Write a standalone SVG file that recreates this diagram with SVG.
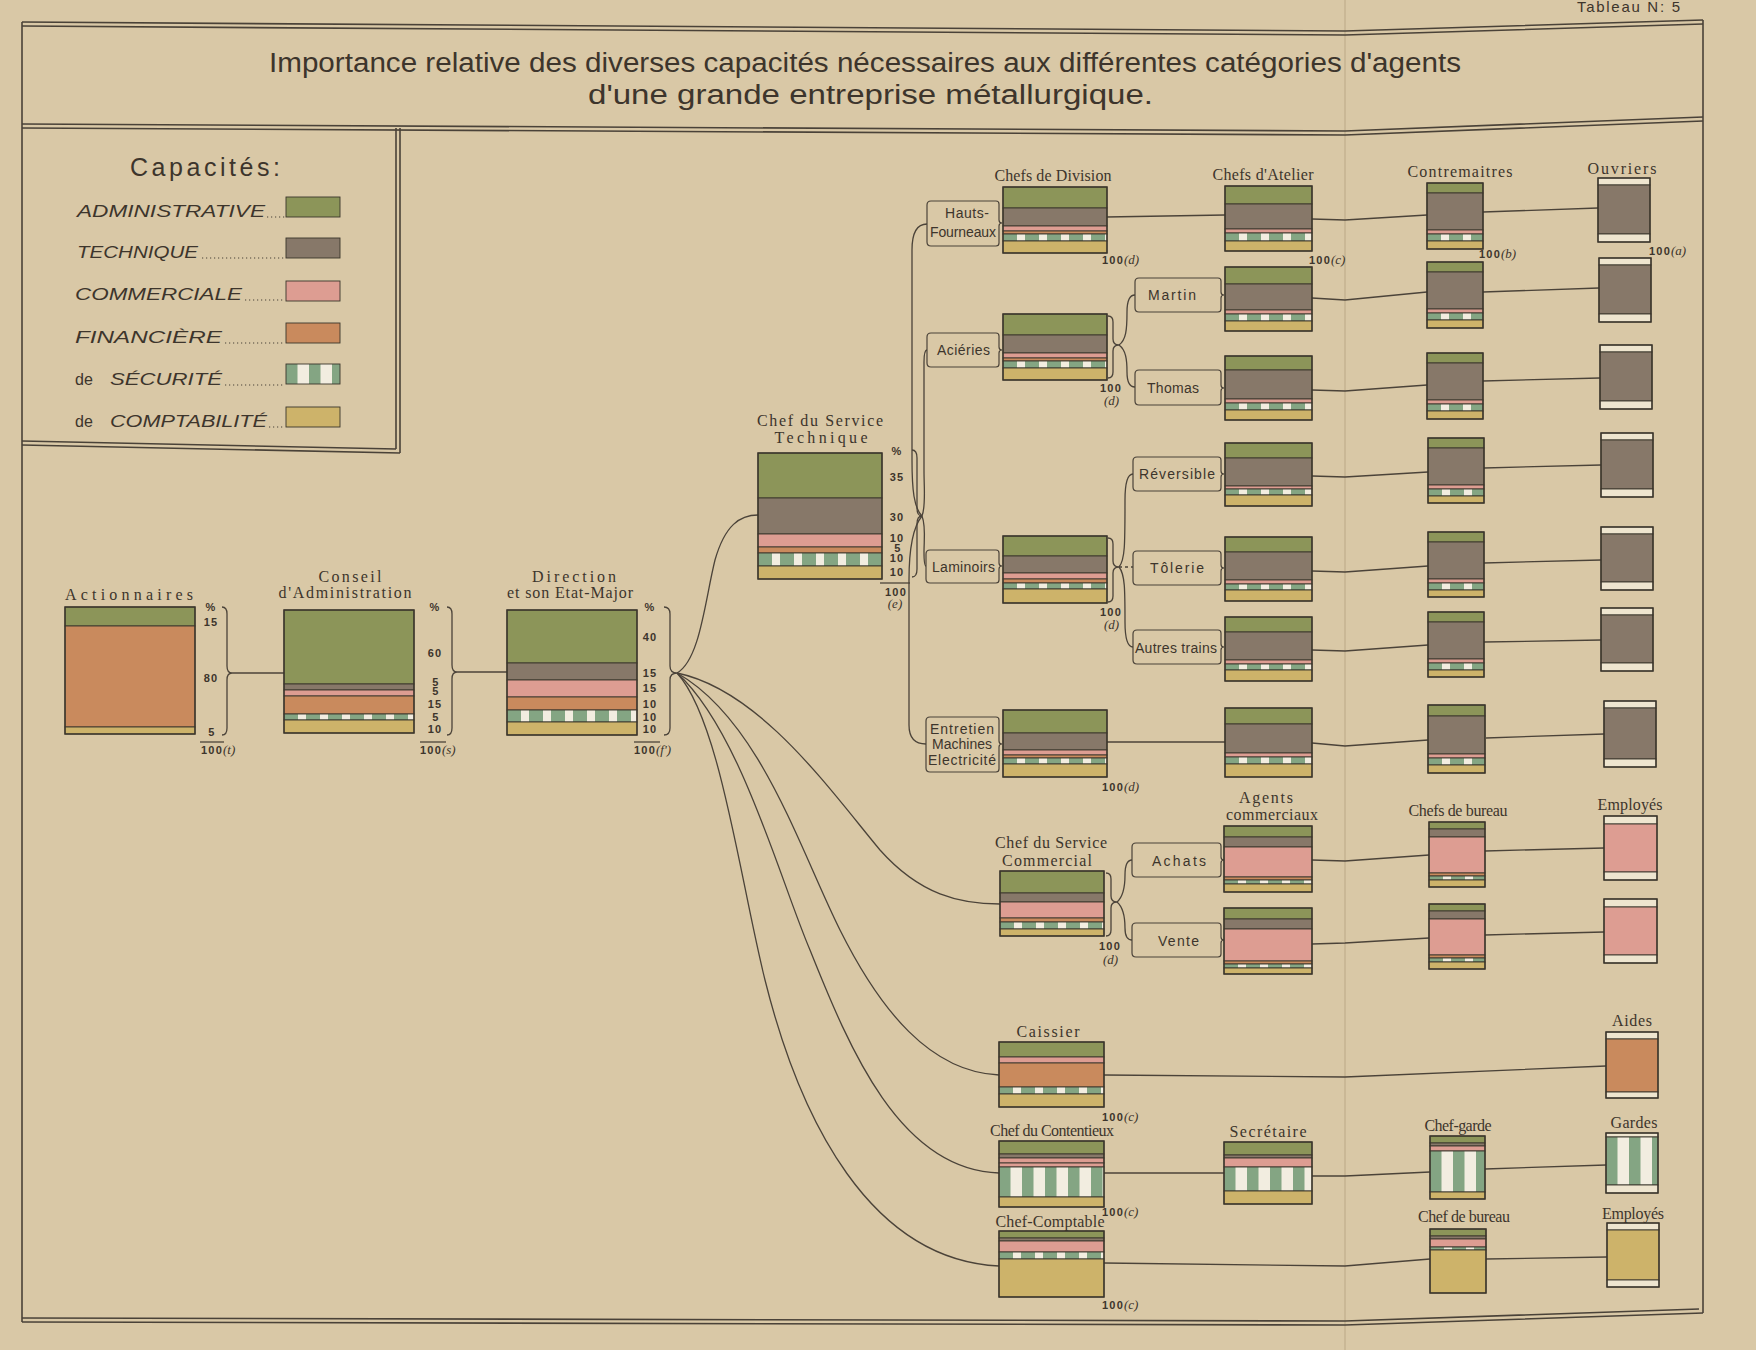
<svg xmlns="http://www.w3.org/2000/svg" width="1756" height="1350" viewBox="0 0 1756 1350">
<defs>
<pattern id="sec" patternUnits="userSpaceOnUse" width="22" height="10"><rect width="22" height="10" fill="#f2ede0"/><rect width="14" height="10" fill="#84a583"/></pattern>
<pattern id="secv" patternUnits="userSpaceOnUse" width="23" height="10"><rect width="23" height="10" fill="#f2ede0"/><rect width="11.5" height="10" fill="#84a583"/></pattern>
<style>
.bar rect{stroke:#3b352c;stroke-width:0.9}
.a{fill:#8c9559}.t{fill:#877869}.c{fill:#dd9d92}.f{fill:#c98a5d}.s{fill:url(#sec)}.sv{fill:url(#secv)}.k{fill:#cdb36a}.p{fill:#eee5cf}
.bar rect.o{fill:none;stroke:#3b352c;stroke-width:1.4}
.ln{fill:none;stroke:#4b4339;stroke-width:1.3}
.fr{fill:none;stroke:#4a4238;stroke-width:1.6}
.lb{font-family:"Liberation Serif",serif;font-size:16px;fill:#3d352c}
.nm{font-family:"Liberation Sans",sans-serif;font-weight:bold;font-size:11px;fill:#3d352c;letter-spacing:1.2px}
.it{font-family:"Liberation Serif",serif;font-style:italic;font-weight:normal;font-size:13px;letter-spacing:0}
.sm{font-family:"Liberation Sans Narrow","Liberation Sans",sans-serif;font-size:14px;fill:#3d352c}
.lbox{fill:none;stroke:#4b4339;stroke-width:1.2}
.lg{font-family:"Liberation Sans",sans-serif;font-style:italic;font-size:16px;fill:#3d352c}
.dots{stroke:#4b4339;stroke-width:1.2;stroke-dasharray:1.2 2.8}
.ttl{font-family:"Liberation Sans Narrow","Liberation Sans",sans-serif;font-size:27px;fill:#3d352c}
</style>
</defs>
<rect width="1756" height="1350" fill="#d9c8a6"/>
<line x1="1345" y1="0" x2="1345" y2="1350" stroke="#b9a685" stroke-width="1.5" opacity="0.6"/>

<g id="frame">
<polyline class="fr" points="22,22 1345,31 1703,20"/>
<polyline class="fr" points="22,26 1345,35 1703,24"/>
<polyline class="fr" points="22,124 1345,131 1703,117"/>
<polyline class="fr" points="22,128 1345,135 1703,121"/>
<line class="fr" x1="22" y1="22" x2="22" y2="1322"/>
<line class="fr" x1="1703" y1="20" x2="1703" y2="1313"/>
<polyline class="fr" points="22,1322 1345,1325 1703,1313"/>
<polyline class="fr" points="22,1318 1345,1321 1699,1309"/>
<text x="1577" y="12" font-family="Liberation Sans Narrow,Liberation Sans,sans-serif" font-size="15" fill="#3d352c" textLength="103">Tableau N: 5</text>
<text class="ttl" x="269" y="72" textLength="1192" lengthAdjust="spacingAndGlyphs">Importance relative des diverses capacités nécessaires aux différentes catégories d'agents</text>
<text class="ttl" x="588" y="104" textLength="565" lengthAdjust="spacingAndGlyphs">d'une grande entreprise métallurgique.</text>
</g>

<g id="legend">
<line class="fr" x1="396" y1="128" x2="396" y2="449"/>
<line class="fr" x1="400" y1="128" x2="400" y2="453"/>
<line class="fr" x1="22" y1="441" x2="396" y2="449"/>
<line class="fr" x1="22" y1="445" x2="400" y2="453"/>
<text x="130" y="176" font-family="Liberation Sans,sans-serif" font-size="25" fill="#3d352c" textLength="150">Capacités:</text>
<text class="lg" x="77" y="217" textLength="188" lengthAdjust="spacingAndGlyphs">ADMINISTRATIVE</text>
<text class="lg" x="77" y="258" textLength="121" lengthAdjust="spacingAndGlyphs">TECHNIQUE</text>
<text class="lg" x="75" y="300" textLength="167" lengthAdjust="spacingAndGlyphs">COMMERCIALE</text>
<text class="lg" x="75" y="343" textLength="147" lengthAdjust="spacingAndGlyphs">FINANCIÈRE</text>
<text x="75" y="385" font-family="Liberation Sans,sans-serif" font-size="16" fill="#3d352c">de</text>
<text class="lg" x="110" y="385" textLength="112" lengthAdjust="spacingAndGlyphs">SÉCURITÉ</text>
<text x="75" y="427" font-family="Liberation Sans,sans-serif" font-size="16" fill="#3d352c">de</text>
<text class="lg" x="110" y="427" textLength="157" lengthAdjust="spacingAndGlyphs">COMPTABILITÉ</text>
<line class="dots" x1="267" y1="217" x2="285" y2="217"/>
<line class="dots" x1="202" y1="258" x2="285" y2="258"/>
<line class="dots" x1="245" y1="300" x2="285" y2="300"/>
<line class="dots" x1="225" y1="343" x2="285" y2="343"/>
<line class="dots" x1="225" y1="385" x2="285" y2="385"/>
<line class="dots" x1="269" y1="427" x2="285" y2="427"/>
<g class="bar" transform="translate(286,197)"><rect class="a" width="54" height="20"/></g>
<g class="bar" transform="translate(286,238)"><rect class="t" width="54" height="20"/></g>
<g class="bar" transform="translate(286,281)"><rect class="c" width="54" height="20"/></g>
<g class="bar" transform="translate(286,323)"><rect class="f" width="54" height="20"/></g>
<g class="bar" transform="translate(286,364)"><rect class="sv" width="54" height="20"/></g>
<g class="bar" transform="translate(286,407)"><rect class="k" width="54" height="20"/></g>
</g>

<g id="connectors">
<line class="ln" x1="232" y1="673" x2="284" y2="673"/>
<line class="ln" x1="457" y1="672" x2="507" y2="672"/>
<path class="ln" d="M677,673 C700,660 705,600 715,560 C725,525 740,515 758,515"/>
<path class="ln" d="M677,673 C760,690 830,790 880,850 C920,895 960,904 1000,904"/>
<path class="ln" d="M677,673 C760,720 800,850 840,930 C880,1010 930,1072 999,1075"/>
<path class="ln" d="M677,673 C740,730 780,880 810,950 C850,1050 900,1170 999,1173"/>
<path class="ln" d="M677,673 C720,720 740,880 765,980 C800,1120 870,1260 999,1266"/>
<path class="ln" d="M912,450 Q917,450 917,458 L917,508 Q917,516 922,516 Q917,516 917,524 L917,569 Q917,577 912,577"/>
<path class="ln" d="M922,516 C914,508 912,490 912,460 L912,250 Q912,224 927,224"/>
<path class="ln" d="M922,516 C926,506 924,490 924,470 L924,362 Q924,350 927,350"/>
<path class="ln" d="M922,516 C926,526 924,540 924,552 Q924,566 926,566"/>
<path class="ln" d="M922,516 C912,528 909,550 909,580 L909,725 Q909,744 926,744"/>
<line class="ln" x1="1106" y1="217" x2="1225" y2="215"/>
<polyline class="ln" points="1312,219 1345,220 1427,215"/>
<line class="ln" x1="1483" y1="212" x2="1598" y2="208"/>
<path class="ln" d="M1108,316 Q1113,316 1113,322 L1113,339 Q1113,345 1119,345 Q1113,345 1113,351 L1113,372 Q1113,378 1108,378"/>
<path class="ln" d="M1119,345 C1126,340 1127,330 1127,312 Q1127,295 1135,295"/>
<path class="ln" d="M1119,345 C1126,350 1127,360 1127,372 Q1127,387 1135,387"/>
<polyline class="ln" points="1312,298 1345,300 1427,292"/>
<line class="ln" x1="1483" y1="292" x2="1599" y2="288"/>
<polyline class="ln" points="1312,390 1345,391 1427,385"/>
<line class="ln" x1="1483" y1="381" x2="1600" y2="378"/>
<path class="ln" d="M1108,538 Q1113,538 1113,544 L1113,561 Q1113,567 1119,567 Q1113,567 1113,573 L1113,596 Q1113,602 1108,602"/>
<path class="ln" d="M1119,567 C1125,560 1125,545 1125,500 Q1125,474 1133,474"/>
<path class="ln" d="M1119,567 C1125,574 1125,590 1125,622 Q1125,647 1133,647"/>
<line class="ln" x1="1119" y1="567" x2="1133" y2="567" stroke-dasharray="3 3"/>
<polyline class="ln" points="1312,476 1345,477 1428,472"/>
<line class="ln" x1="1484" y1="468" x2="1601" y2="465"/>
<polyline class="ln" points="1312,571 1345,572 1428,566"/>
<line class="ln" x1="1484" y1="563" x2="1601" y2="560"/>
<polyline class="ln" points="1312,650 1345,651 1428,645"/>
<line class="ln" x1="1484" y1="642" x2="1601" y2="640"/>
<line class="ln" x1="1107" y1="742" x2="1225" y2="742"/>
<polyline class="ln" points="1312,743 1345,746 1428,740"/>
<line class="ln" x1="1486" y1="738" x2="1604" y2="734"/>
<path class="ln" d="M1106,873 Q1111,873 1111,879 L1111,896 Q1111,902 1117,902 Q1111,902 1111,908 L1111,930 Q1111,936 1106,936"/>
<path class="ln" d="M1117,902 C1124,896 1125,885 1125,875 Q1125,860 1132,860"/>
<path class="ln" d="M1117,902 C1124,908 1125,918 1125,928 Q1125,940 1132,940"/>
<polyline class="ln" points="1312,860 1345,861 1429,855"/>
<line class="ln" x1="1485" y1="851" x2="1604" y2="848"/>
<polyline class="ln" points="1312,944 1345,943 1429,938"/>
<line class="ln" x1="1485" y1="935" x2="1604" y2="932"/>
<polyline class="ln" points="1104,1075 1345,1077 1606,1066"/>
<line class="ln" x1="1104" y1="1173" x2="1224" y2="1173"/>
<polyline class="ln" points="1312,1176 1345,1176 1430,1172"/>
<line class="ln" x1="1485" y1="1169" x2="1606" y2="1165"/>
<polyline class="ln" points="1104,1263 1345,1266 1430,1259"/>
<line class="ln" x1="1486" y1="1259" x2="1607" y2="1257"/>
</g>

<g id="actionnaires">
<text class="lb" x="129" y="600" text-anchor="middle" textLength="128">Actionnaires</text>
<g class="bar" transform="translate(65,607)"><rect class="a" width="130" height="19"/><rect class="f" y="19" width="130" height="101"/><rect class="k" y="120" width="130" height="7"/><rect class="o" width="130" height="127"/></g>
<path class="ln" d="M222,607 Q227,607 227,614 L227,666 Q227,673 232,673 Q227,673 227,680 L227,728 Q227,735 222,735"/>
<text class="nm" text-anchor="middle" x="211" y="611">%</text>
<text class="nm" text-anchor="middle" x="211" y="626">15</text>
<text class="nm" text-anchor="middle" x="211" y="682">80</text>
<text class="nm" text-anchor="middle" x="212" y="736">5</text>
<line class="ln" x1="200" y1="742" x2="224" y2="742"/>
<text class="nm" x="201" y="754">100<tspan class="it">(t)</tspan></text>
</g>

<g id="conseil">
<text class="lb" x="350" y="582" text-anchor="middle" textLength="63">Conseil</text>
<text class="lb" x="345" y="598" text-anchor="middle" textLength="133">d'Administration</text>
<g class="bar" transform="translate(284,610)"><rect class="a" width="130" height="74"/><rect class="t" y="74" width="130" height="6"/><rect class="c" y="80" width="130" height="6"/><rect class="f" y="86" width="130" height="18"/><rect class="s" y="104" width="130" height="6"/><rect class="k" y="110" width="130" height="13"/><rect class="o" width="130" height="123"/></g>
<path class="ln" d="M447,607 Q452,607 452,614 L452,665 Q452,672 457,672 Q452,672 452,679 L452,728 Q452,735 447,735"/>
<text class="nm" text-anchor="middle" x="435" y="611">%</text>
<text class="nm" text-anchor="middle" x="435" y="657">60</text>
<text class="nm" text-anchor="middle" x="436" y="686" font-size="7">5</text>
<text class="nm" text-anchor="middle" x="436" y="695" font-size="7">5</text>
<text class="nm" text-anchor="middle" x="435" y="708">15</text>
<text class="nm" text-anchor="middle" x="436" y="721">5</text>
<text class="nm" text-anchor="middle" x="435" y="733">10</text>
<line class="ln" x1="420" y1="742" x2="446" y2="742"/>
<text class="nm" x="420" y="754">100<tspan class="it">(s)</tspan></text>
</g>

<g id="direction">
<text class="lb" x="574" y="582" text-anchor="middle" textLength="84">Direction</text>
<text class="lb" x="570" y="598" text-anchor="middle" textLength="126">et son Etat-Major</text>
<g class="bar" transform="translate(507,610)"><rect class="a" width="130" height="53"/><rect class="t" y="53" width="130" height="17"/><rect class="c" y="70" width="130" height="17"/><rect class="f" y="87" width="130" height="13"/><rect class="s" y="100" width="130" height="12"/><rect class="k" y="112" width="130" height="13"/><rect class="o" width="130" height="125"/></g>
<path class="ln" d="M664,607 Q670,607 670,614 L670,666 Q670,673 677,673 Q670,673 670,680 L670,728 Q670,735 664,735"/>
<text class="nm" text-anchor="middle" x="650" y="611">%</text>
<text class="nm" text-anchor="middle" x="650" y="641">40</text>
<text class="nm" text-anchor="middle" x="650" y="677">15</text>
<text class="nm" text-anchor="middle" x="650" y="692">15</text>
<text class="nm" text-anchor="middle" x="650" y="708">10</text>
<text class="nm" text-anchor="middle" x="650" y="721">10</text>
<text class="nm" text-anchor="middle" x="650" y="733">10</text>
<line class="ln" x1="634" y1="742" x2="660" y2="742"/>
<text class="nm" x="634" y="754">100<tspan class="it">(f')</tspan></text>
</g>

<g id="chef-technique">
<text class="lb" x="820" y="426" text-anchor="middle" textLength="126">Chef du Service</text>
<text class="lb" x="821" y="443" text-anchor="middle" textLength="93">Technique</text>
<g class="bar" transform="translate(758,453)"><rect class="a" width="124" height="45"/><rect class="t" y="45" width="124" height="36"/><rect class="c" y="81" width="124" height="13"/><rect class="f" y="94" width="124" height="6"/><rect class="s" y="100" width="124" height="13"/><rect class="k" y="113" width="124" height="13"/><rect class="o" width="124" height="126"/></g>
<text class="nm" text-anchor="middle" x="897" y="455">%</text>
<text class="nm" text-anchor="middle" x="897" y="481">35</text>
<text class="nm" text-anchor="middle" x="897" y="521">30</text>
<text class="nm" text-anchor="middle" x="897" y="542">10</text>
<text class="nm" text-anchor="middle" x="898" y="552">5</text>
<text class="nm" text-anchor="middle" x="897" y="562">10</text>
<text class="nm" text-anchor="middle" x="897" y="576">10</text>
<line class="ln" x1="880" y1="583" x2="910" y2="583"/>
<text class="nm" text-anchor="middle" x="896" y="596">100</text>
<text class="it" text-anchor="middle" x="895" y="608" fill="#3d352c">(e)</text>
</g>

<g id="headers">
<text class="lb" x="1053" y="181" font-size="15" text-anchor="middle" textLength="117">Chefs de Division</text>
<text class="lb" x="1263" y="180" font-size="15" text-anchor="middle" textLength="101">Chefs d'Atelier</text>
<text class="lb" x="1460" y="177" font-size="15" text-anchor="middle" textLength="105">Contremaitres</text>
<text class="lb" x="1622" y="174" font-size="15" text-anchor="middle" textLength="69">Ouvriers</text>
</g>

<g id="hauts-fourneaux">
<path class="lbox" d="M931,201 H996 Q999,201 999,204 V220 Q999,223 1002,223 Q999,223 999,226 V243 Q999,246 996,246 H931 Q927,246 927,242 V205 Q927,201 931,201 Z"/>
<text class="sm" x="989" y="218" font-size="13" text-anchor="end" textLength="44">Hauts-</text>
<text class="sm" x="930" y="237" font-size="13" textLength="66">Fourneaux</text>
<g class="bar" transform="translate(1003,187)"><rect class="a" width="104" height="21"/><rect class="t" y="21" width="104" height="18"/><rect class="c" y="39" width="104" height="5"/><rect class="f" y="44" width="104" height="3"/><rect class="s" y="47" width="104" height="7"/><rect class="k" y="54" width="104" height="12"/><rect class="o" width="104" height="66"/></g>
<text class="nm" x="1102" y="264">100<tspan class="it">(d)</tspan></text>
<g class="bar" transform="translate(1225,186)"><rect class="a" width="87" height="18"/><rect class="t" y="18" width="87" height="25"/><rect class="c" y="43" width="87" height="4"/><rect class="s" y="47" width="87" height="8"/><rect class="k" y="55" width="87" height="10"/><rect class="o" width="87" height="65"/></g>
<text class="nm" x="1309" y="264">100<tspan class="it">(c)</tspan></text>
<g class="bar" transform="translate(1427,183)"><rect class="a" width="56" height="10"/><rect class="t" y="10" width="56" height="37"/><rect class="c" y="47" width="56" height="4"/><rect class="s" y="51" width="56" height="7"/><rect class="k" y="58" width="56" height="8"/><rect class="o" width="56" height="66"/></g>
<text class="nm" x="1479" y="258">100<tspan class="it">(b)</tspan></text>
<g class="bar" transform="translate(1598,178)"><rect class="p" width="52" height="7"/><rect class="t" y="7" width="52" height="49"/><rect class="p" y="56" width="52" height="8"/><rect class="o" width="52" height="64"/></g>
<text class="nm" x="1649" y="255">100<tspan class="it">(a)</tspan></text>
</g>

<g id="acieries">
<path class="lbox" d="M931,333 H996 Q999,333 999,336 V347 Q999,350 1002,350 Q999,350 999,353 V364 Q999,367 996,367 H931 Q927,367 927,363 V337 Q927,333 931,333 Z"/>
<text class="sm" x="937" y="355" textLength="53">Aciéries</text>
<g class="bar" transform="translate(1003,314)"><rect class="a" width="104" height="21"/><rect class="t" y="21" width="104" height="18"/><rect class="c" y="39" width="104" height="5"/><rect class="f" y="44" width="104" height="3"/><rect class="s" y="47" width="104" height="7"/><rect class="k" y="54" width="104" height="12"/><rect class="o" width="104" height="66"/></g>
<text class="nm" x="1100" y="392">100</text>
<text class="it" x="1104" y="405" fill="#3d352c">(d)</text>
</g>

<g id="martin">
<path class="lbox" d="M1139,278 H1218 Q1221,278 1221,281 V292 Q1221,295 1224,295 Q1221,295 1221,298 V309 Q1221,312 1218,312 H1139 Q1135,312 1135,308 V282 Q1135,278 1139,278 Z"/>
<text class="sm" x="1148" y="300" font-size="15" textLength="48">Martin</text>
<g class="bar" transform="translate(1225,267)"><rect class="a" width="87" height="17"/><rect class="t" y="17" width="87" height="26"/><rect class="c" y="43" width="87" height="4"/><rect class="s" y="47" width="87" height="7"/><rect class="k" y="54" width="87" height="10"/><rect class="o" width="87" height="64"/></g>
<g class="bar" transform="translate(1427,262)"><rect class="a" width="56" height="10"/><rect class="t" y="10" width="56" height="37"/><rect class="c" y="47" width="56" height="4"/><rect class="s" y="51" width="56" height="7"/><rect class="k" y="58" width="56" height="8"/><rect class="o" width="56" height="66"/></g>
<g class="bar" transform="translate(1599,258)"><rect class="p" width="52" height="7"/><rect class="t" y="7" width="52" height="49"/><rect class="p" y="56" width="52" height="8"/><rect class="o" width="52" height="64"/></g>
</g>

<g id="thomas">
<path class="lbox" d="M1139,370 H1218 Q1221,370 1221,373 V385 Q1221,388 1224,388 Q1221,388 1221,391 V402 Q1221,405 1218,405 H1139 Q1135,405 1135,401 V374 Q1135,370 1139,370 Z"/>
<text class="sm" x="1147" y="393" font-size="15" textLength="52">Thomas</text>
<g class="bar" transform="translate(1225,356)"><rect class="a" width="87" height="14"/><rect class="t" y="14" width="87" height="29"/><rect class="c" y="43" width="87" height="4"/><rect class="s" y="47" width="87" height="7"/><rect class="k" y="54" width="87" height="10"/><rect class="o" width="87" height="64"/></g>
<g class="bar" transform="translate(1427,353)"><rect class="a" width="56" height="10"/><rect class="t" y="10" width="56" height="37"/><rect class="c" y="47" width="56" height="4"/><rect class="s" y="51" width="56" height="7"/><rect class="k" y="58" width="56" height="8"/><rect class="o" width="56" height="66"/></g>
<g class="bar" transform="translate(1600,345)"><rect class="p" width="52" height="7"/><rect class="t" y="7" width="52" height="49"/><rect class="p" y="56" width="52" height="8"/><rect class="o" width="52" height="64"/></g>
</g>

<g id="laminoirs">
<path class="lbox" d="M930,550 H996 Q999,550 999,553 V563 Q999,566 1002,566 Q999,566 999,569 V580 Q999,583 996,583 H930 Q926,583 926,579 V554 Q926,550 930,550 Z"/>
<text class="sm" x="932" y="572" textLength="63">Laminoirs</text>
<g class="bar" transform="translate(1003,536)"><rect class="a" width="104" height="20"/><rect class="t" y="20" width="104" height="17"/><rect class="c" y="37" width="104" height="6"/><rect class="f" y="43" width="104" height="4"/><rect class="s" y="47" width="104" height="6"/><rect class="k" y="53" width="104" height="14"/><rect class="o" width="104" height="67"/></g>
<text class="nm" x="1100" y="616">100</text>
<text class="it" x="1104" y="629" fill="#3d352c">(d)</text>
</g>

<g id="reversible">
<path class="lbox" d="M1137,457 H1218 Q1221,457 1221,460 V471 Q1221,474 1224,474 Q1221,474 1221,477 V488 Q1221,491 1218,491 H1137 Q1133,491 1133,487 V461 Q1133,457 1137,457 Z"/>
<text class="sm" x="1139" y="479" font-size="15" textLength="76">Réversible</text>
<g class="bar" transform="translate(1225,443)"><rect class="a" width="87" height="15"/><rect class="t" y="15" width="87" height="28"/><rect class="c" y="43" width="87" height="3"/><rect class="s" y="46" width="87" height="6"/><rect class="k" y="52" width="87" height="11"/><rect class="o" width="87" height="63"/></g>
<g class="bar" transform="translate(1428,438)"><rect class="a" width="56" height="10"/><rect class="t" y="10" width="56" height="37"/><rect class="c" y="47" width="56" height="4"/><rect class="s" y="51" width="56" height="7"/><rect class="k" y="58" width="56" height="7"/><rect class="o" width="56" height="65"/></g>
<g class="bar" transform="translate(1601,433)"><rect class="p" width="52" height="7"/><rect class="t" y="7" width="52" height="49"/><rect class="p" y="56" width="52" height="8"/><rect class="o" width="52" height="64"/></g>
</g>

<g id="tolerie">
<path class="lbox" d="M1137,551 H1218 Q1221,551 1221,554 V565 Q1221,568 1224,568 Q1221,568 1221,571 V582 Q1221,585 1218,585 H1137 Q1133,585 1133,581 V555 Q1133,551 1137,551 Z"/>
<text class="sm" x="1150" y="573" font-size="15" textLength="54">Tôlerie</text>
<g class="bar" transform="translate(1225,537)"><rect class="a" width="87" height="15"/><rect class="t" y="15" width="87" height="28"/><rect class="c" y="43" width="87" height="4"/><rect class="s" y="47" width="87" height="6"/><rect class="k" y="53" width="87" height="11"/><rect class="o" width="87" height="64"/></g>
<g class="bar" transform="translate(1428,532)"><rect class="a" width="56" height="10"/><rect class="t" y="10" width="56" height="37"/><rect class="c" y="47" width="56" height="4"/><rect class="s" y="51" width="56" height="7"/><rect class="k" y="58" width="56" height="7"/><rect class="o" width="56" height="65"/></g>
<g class="bar" transform="translate(1601,527)"><rect class="p" width="52" height="7"/><rect class="t" y="7" width="52" height="48"/><rect class="p" y="55" width="52" height="8"/><rect class="o" width="52" height="63"/></g>
</g>

<g id="autres-trains">
<path class="lbox" d="M1137,630 H1218 Q1221,630 1221,633 V644 Q1221,647 1224,647 Q1221,647 1221,650 V661 Q1221,664 1218,664 H1137 Q1133,664 1133,660 V634 Q1133,630 1137,630 Z"/>
<text class="sm" x="1135" y="653" font-size="13" textLength="82">Autres trains</text>
<g class="bar" transform="translate(1225,617)"><rect class="a" width="87" height="15"/><rect class="t" y="15" width="87" height="28"/><rect class="c" y="43" width="87" height="4"/><rect class="s" y="47" width="87" height="6"/><rect class="k" y="53" width="87" height="11"/><rect class="o" width="87" height="64"/></g>
<g class="bar" transform="translate(1428,612)"><rect class="a" width="56" height="10"/><rect class="t" y="10" width="56" height="37"/><rect class="c" y="47" width="56" height="4"/><rect class="s" y="51" width="56" height="7"/><rect class="k" y="58" width="56" height="7"/><rect class="o" width="56" height="65"/></g>
<g class="bar" transform="translate(1601,608)"><rect class="p" width="52" height="7"/><rect class="t" y="7" width="52" height="48"/><rect class="p" y="55" width="52" height="8"/><rect class="o" width="52" height="63"/></g>
</g>

<g id="entretien">
<path class="lbox" d="M930,717 H996 Q999,717 999,720 V741 Q999,744 1002,744 Q999,744 999,747 V769 Q999,772 996,772 H930 Q926,772 926,768 V721 Q926,717 930,717 Z"/>
<text class="sm" x="930" y="734" font-size="13" textLength="64">Entretien</text>
<text class="sm" x="932" y="749" font-size="13" textLength="60">Machines</text>
<text class="sm" x="928" y="765" font-size="13" textLength="68">Electricité</text>
<g class="bar" transform="translate(1003,710)"><rect class="a" width="104" height="23"/><rect class="t" y="23" width="104" height="17"/><rect class="c" y="40" width="104" height="5"/><rect class="f" y="45" width="104" height="3"/><rect class="s" y="48" width="104" height="6"/><rect class="k" y="54" width="104" height="13"/><rect class="o" width="104" height="67"/></g>
<text class="nm" x="1102" y="791">100<tspan class="it">(d)</tspan></text>
<g class="bar" transform="translate(1225,708)"><rect class="a" width="87" height="16"/><rect class="t" y="16" width="87" height="29"/><rect class="c" y="45" width="87" height="4"/><rect class="s" y="49" width="87" height="7"/><rect class="k" y="56" width="87" height="13"/><rect class="o" width="87" height="69"/></g>
<g class="bar" transform="translate(1428,705)"><rect class="a" width="57" height="11"/><rect class="t" y="11" width="57" height="38"/><rect class="c" y="49" width="57" height="4"/><rect class="s" y="53" width="57" height="7"/><rect class="k" y="60" width="57" height="8"/><rect class="o" width="57" height="68"/></g>
<g class="bar" transform="translate(1604,701)"><rect class="p" width="52" height="7"/><rect class="t" y="7" width="52" height="51"/><rect class="p" y="58" width="52" height="8"/><rect class="o" width="52" height="66"/></g>
</g>

<g id="chef-commercial">
<text class="lb" x="1051" y="848" text-anchor="middle" textLength="112">Chef du Service</text>
<text class="lb" x="1047" y="866" text-anchor="middle" textLength="90">Commercial</text>
<g class="bar" transform="translate(1000,871)"><rect class="a" width="104" height="22"/><rect class="t" y="22" width="104" height="9"/><rect class="c" y="31" width="104" height="16"/><rect class="f" y="47" width="104" height="4"/><rect class="s" y="51" width="104" height="7"/><rect class="k" y="58" width="104" height="7"/><rect class="o" width="104" height="65"/></g>
<text class="nm" x="1099" y="950">100</text>
<text class="it" x="1103" y="964" fill="#3d352c">(d)</text>
<text class="lb" x="1266" y="803" text-anchor="middle" textLength="54">Agents</text>
<text class="lb" x="1272" y="820" text-anchor="middle" textLength="92">commerciaux</text>
<text class="lb" x="1458" y="816" font-size="15" text-anchor="middle" textLength="99">Chefs de bureau</text>
<text class="lb" x="1630" y="810" font-size="15" text-anchor="middle" textLength="65">Employés</text>
</g>

<g id="achats">
<path class="lbox" d="M1136,843 H1218 Q1221,843 1221,846 V857 Q1221,860 1224,860 Q1221,860 1221,863 V874 Q1221,877 1218,877 H1136 Q1132,877 1132,873 V847 Q1132,843 1136,843 Z"/>
<text class="sm" x="1152" y="866" font-size="15" textLength="54">Achats</text>
<g class="bar" transform="translate(1224,826)"><rect class="a" width="88" height="11"/><rect class="t" y="11" width="88" height="10"/><rect class="c" y="21" width="88" height="30"/><rect class="f" y="51" width="88" height="3"/><rect class="s" y="54" width="88" height="4"/><rect class="k" y="58" width="88" height="8"/><rect class="o" width="88" height="66"/></g>
<g class="bar" transform="translate(1429,822)"><rect class="a" width="56" height="7"/><rect class="t" y="7" width="56" height="8"/><rect class="c" y="15" width="56" height="36"/><rect class="f" y="51" width="56" height="3"/><rect class="s" y="54" width="56" height="4"/><rect class="k" y="58" width="56" height="7"/><rect class="o" width="56" height="65"/></g>
<g class="bar" transform="translate(1604,816)"><rect class="p" width="53" height="8"/><rect class="c" y="8" width="53" height="48"/><rect class="p" y="56" width="53" height="8"/><rect class="o" width="53" height="64"/></g>
</g>

<g id="vente">
<path class="lbox" d="M1136,923 H1218 Q1221,923 1221,926 V937 Q1221,940 1224,940 Q1221,940 1221,943 V954 Q1221,957 1218,957 H1136 Q1132,957 1132,953 V927 Q1132,923 1136,923 Z"/>
<text class="sm" x="1158" y="946" font-size="15" textLength="41">Vente</text>
<g class="bar" transform="translate(1224,908)"><rect class="a" width="88" height="11"/><rect class="t" y="11" width="88" height="10"/><rect class="c" y="21" width="88" height="32"/><rect class="f" y="53" width="88" height="3"/><rect class="s" y="56" width="88" height="4"/><rect class="k" y="60" width="88" height="6"/><rect class="o" width="88" height="66"/></g>
<g class="bar" transform="translate(1429,904)"><rect class="a" width="56" height="7"/><rect class="t" y="7" width="56" height="8"/><rect class="c" y="15" width="56" height="36"/><rect class="f" y="51" width="56" height="3"/><rect class="s" y="54" width="56" height="4"/><rect class="k" y="58" width="56" height="7"/><rect class="o" width="56" height="65"/></g>
<g class="bar" transform="translate(1604,899)"><rect class="p" width="53" height="8"/><rect class="c" y="8" width="53" height="48"/><rect class="p" y="56" width="53" height="8"/><rect class="o" width="53" height="64"/></g>
</g>

<g id="caissier">
<text class="lb" x="1048" y="1037" text-anchor="middle" textLength="63">Caissier</text>
<g class="bar" transform="translate(999,1042)"><rect class="a" width="105" height="15"/><rect class="c" y="15" width="105" height="6"/><rect class="f" y="21" width="105" height="24"/><rect class="s" y="45" width="105" height="7"/><rect class="k" y="52" width="105" height="13"/><rect class="o" width="105" height="65"/></g>
<text class="nm" x="1102" y="1121">100<tspan class="it">(c)</tspan></text>
<text class="lb" x="1632" y="1026" text-anchor="middle" textLength="40">Aides</text>
<g class="bar" transform="translate(1606,1032)"><rect class="p" width="52" height="7"/><rect class="f" y="7" width="52" height="53"/><rect class="p" y="60" width="52" height="6"/><rect class="o" width="52" height="66"/></g>
</g>

<g id="contentieux">
<text class="lb" x="1052" y="1136" font-size="15" text-anchor="middle" textLength="124">Chef du Contentieux</text>
<g class="bar" transform="translate(999,1141)"><rect class="a" width="105" height="13"/><rect class="t" y="13" width="105" height="4"/><rect class="c" y="17" width="105" height="5"/><rect class="c" y="22" width="105" height="4"/><rect class="sv" y="26" width="105" height="30"/><rect class="k" y="56" width="105" height="10"/><rect class="o" width="105" height="66"/></g>
<text class="nm" x="1102" y="1216">100<tspan class="it">(c)</tspan></text>
<text class="lb" x="1268" y="1137" text-anchor="middle" textLength="77">Secrétaire</text>
<g class="bar" transform="translate(1224,1142)"><rect class="a" width="88" height="13"/><rect class="t" y="13" width="88" height="3"/><rect class="c" y="16" width="88" height="9"/><rect class="sv" y="25" width="88" height="24"/><rect class="k" y="49" width="88" height="13"/><rect class="o" width="88" height="62"/></g>
<text class="lb" x="1458" y="1131" font-size="15" text-anchor="middle" textLength="67">Chef-garde</text>
<g class="bar" transform="translate(1430,1136)"><rect class="a" width="55" height="7"/><rect class="t" y="7" width="55" height="3"/><rect class="c" y="10" width="55" height="5"/><rect class="sv" y="15" width="55" height="41"/><rect class="k" y="56" width="55" height="7"/><rect class="o" width="55" height="63"/></g>
<text class="lb" x="1634" y="1128" text-anchor="middle" textLength="47">Gardes</text>
<g class="bar" transform="translate(1606,1133)"><rect class="p" width="52" height="4"/><rect class="sv" y="4" width="52" height="48"/><rect class="p" y="52" width="52" height="8"/><rect class="o" width="52" height="60"/></g>
</g>

<g id="comptable">
<text class="lb" x="1050" y="1227" text-anchor="middle" textLength="109">Chef-Comptable</text>
<g class="bar" transform="translate(999,1231)"><rect class="a" width="105" height="7"/><rect class="t" y="7" width="105" height="3"/><rect class="c" y="10" width="105" height="11"/><rect class="s" y="21" width="105" height="7"/><rect class="k" y="28" width="105" height="38"/><rect class="o" width="105" height="66"/></g>
<text class="nm" x="1102" y="1309">100<tspan class="it">(c)</tspan></text>
<text class="lb" x="1464" y="1222" font-size="15" text-anchor="middle" textLength="92">Chef de bureau</text>
<g class="bar" transform="translate(1430,1229)"><rect class="a" width="56" height="7"/><rect class="t" y="7" width="56" height="3"/><rect class="c" y="10" width="56" height="8"/><rect class="s" y="18" width="56" height="3"/><rect class="k" y="21" width="56" height="43"/><rect class="o" width="56" height="64"/></g>
<text class="lb" x="1633" y="1219" font-size="15" text-anchor="middle" textLength="62">Employés</text>
<g class="bar" transform="translate(1607,1223)"><rect class="p" width="52" height="7"/><rect class="k" y="7" width="52" height="50"/><rect class="p" y="57" width="52" height="7"/><rect class="o" width="52" height="64"/></g>
</g>
</svg>
